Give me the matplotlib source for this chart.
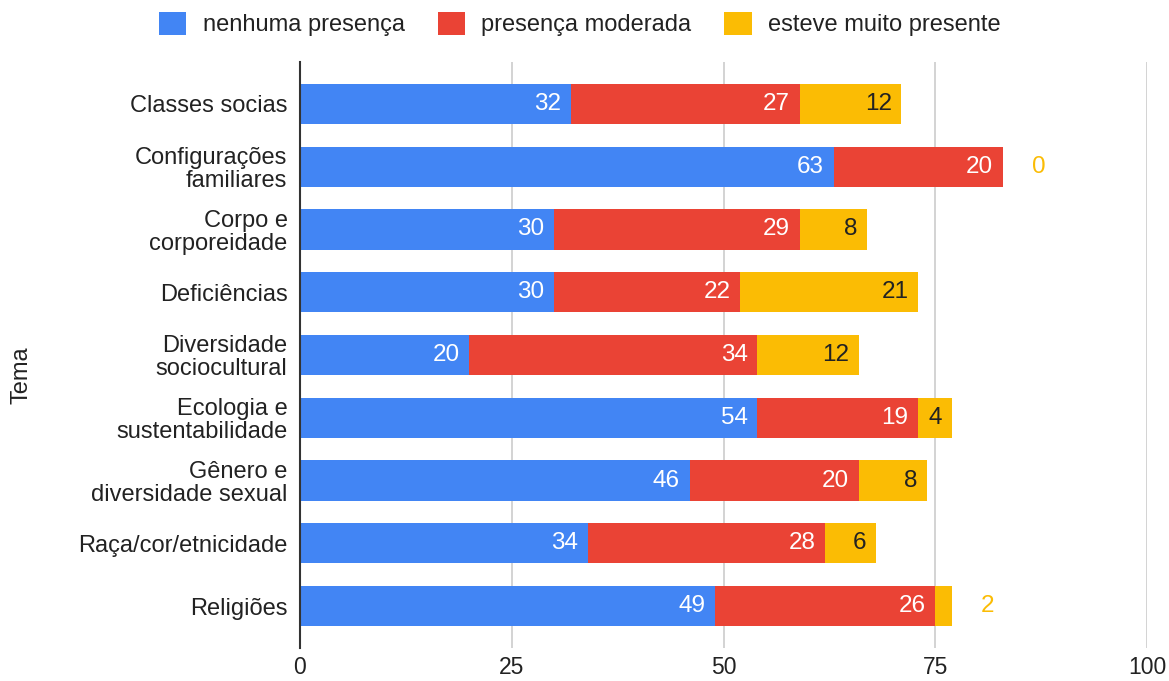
import matplotlib
matplotlib.use("Agg")
import matplotlib.pyplot as plt
from matplotlib.patches import Patch

plt.rcParams['font.family'] = ['Liberation Sans', 'DejaVu Sans']

categories = [
    "Classes socias",
    "Configurações\nfamiliares",
    "Corpo e\ncorporeidade",
    "Deficiências",
    "Diversidade\nsociocultural",
    "Ecologia e\nsustentabilidade",
    "Gênero e\ndiversidade sexual",
    "Raça/cor/etnicidade",
    "Religiões",
]
nenhuma = [32, 63, 30, 30, 20, 54, 46, 34, 49]
moderada = [27, 20, 29, 22, 34, 19, 20, 28, 26]
muito = [12, 0, 8, 21, 12, 4, 8, 6, 2]
series_names = ["nenhuma presença", "presença moderada", "esteve muito presente"]
xticks = [0, 25, 50, 75, 100]
axis_title = "Tema"

colors = ["#4285F4", "#EA4335", "#FBBC04"]
text_dark = "#222222"
fs = 17

fig = plt.figure(figsize=(11.69, 6.81), dpi=100)
ax = fig.add_axes([300 / 1169, 1 - 648 / 681, 847 / 1169, 586 / 681])

n = len(categories)
ypos = list(range(n))
bar_h = 0.64
series = [nenhuma, moderada, muito]

# stacked horizontal bars
lefts = [0] * n
for si, vals in enumerate(series):
    ax.barh(ypos, vals, left=lefts, height=bar_h, color=colors[si],
            edgecolor="none", zorder=3)
    lefts = [l + v for l, v in zip(lefts, vals)]

# value labels: inside the segment when it fits, beside the bar otherwise
pad = 1.15
totals_before = [0] * n
for si, vals in enumerate(series):
    for i, v in enumerate(vals):
        end = totals_before[i] + v
        if v >= 4:
            col = "white" if si < 2 else text_dark
            ax.text(end - pad, i, str(v), ha="right", va="center",
                    color=col, fontsize=17.5, zorder=4)
        else:
            ax.text(end + 3.4, i, str(v), ha="left", va="center",
                    color=colors[si], fontsize=17.5, zorder=4)
    totals_before = [t + v for t, v in zip(totals_before, vals)]

ax.set_xlim(0, 100)
ax.set_ylim(n - 1 + 0.669, -0.669)
ax.set_xticks(xticks)
ax.set_xticklabels([str(t) for t in xticks])
ax.set_yticks(ypos)
ax.set_yticklabels(categories, multialignment="right", linespacing=1.05)
ax.tick_params(axis="both", length=0, labelsize=fs, colors=text_dark)
ax.tick_params(axis="x", pad=6, labelsize=16.5)
ax.tick_params(axis="y", pad=9)

ax.grid(axis="x", color="#CCCCCC", linewidth=1.2, zorder=0)
ax.set_axisbelow(True)
for s in ["top", "right", "bottom"]:
    ax.spines[s].set_visible(False)
ax.spines["left"].set_color("#333333")
ax.spines["left"].set_linewidth(1.5)
ax.spines["left"].set_zorder(5)

fig.text(22 / 1169, 1 - 375 / 681, axis_title, rotation=90, ha="center",
         va="center", fontsize=fs, color=text_dark)

handles = [Patch(facecolor=c, edgecolor="none") for c in colors]
fig.legend(handles, series_names, loc="center", ncol=3,
           bbox_to_anchor=(0.496, 1 - 24 / 681), frameon=False,
           fontsize=fs, handlelength=1.15, handleheight=1.15,
           handletextpad=0.7, columnspacing=1.4, labelcolor=text_dark)

fig.savefig("out.png", dpi=100)
